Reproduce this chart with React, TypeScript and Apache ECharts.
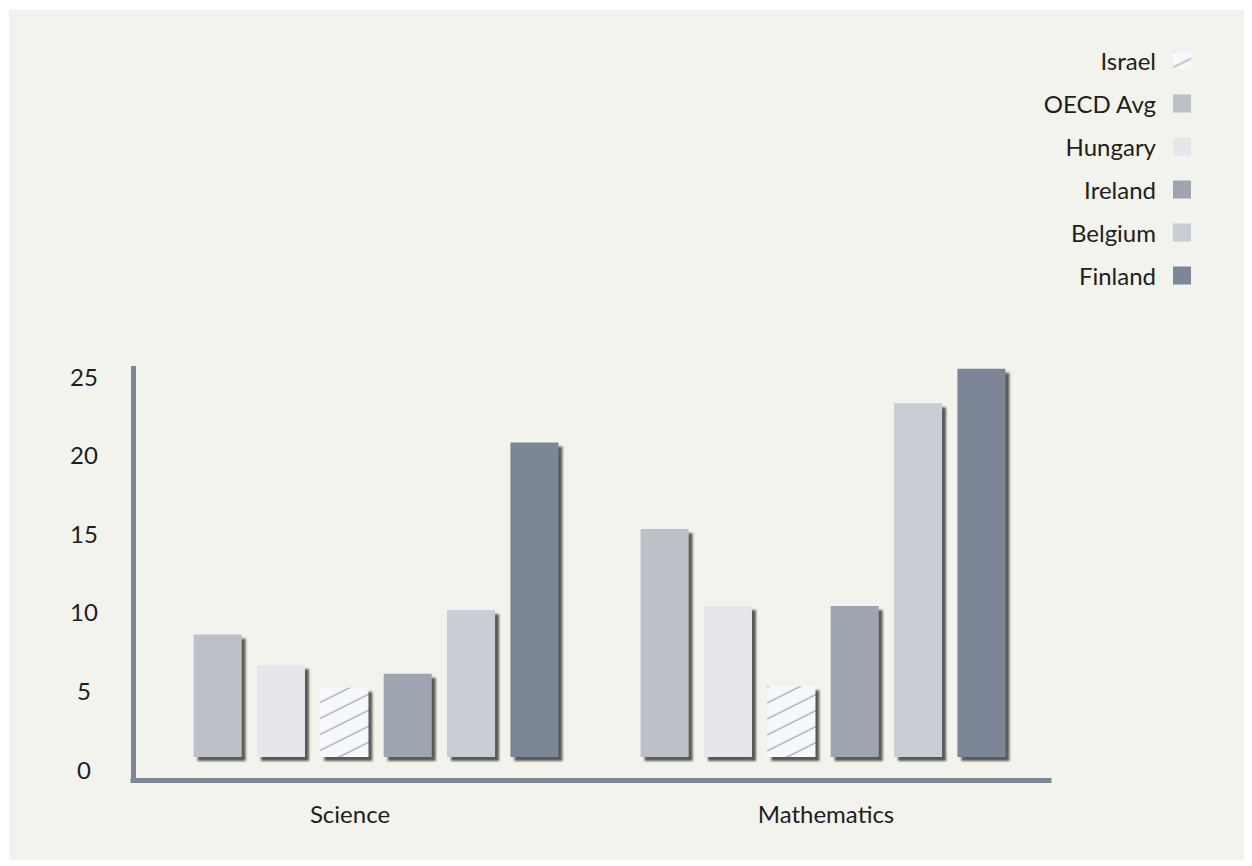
import React, { useEffect, useRef } from "react";
import * as echarts from "echarts";

const categories = ["Science", "Mathematics"];
const yTicks = [0, 5, 10, 15, 20, 25];
const oecdAvg = [7.8, 14.5];
const hungary = [5.85, 9.6];
const israel = [4.4, 4.5];
const ireland = [5.3, 9.6];
const belgium = [9.35, 22.5];
const finland = [20.0, 24.7];
const legendOrder = ["Israel", "OECD Avg", "Hungary", "Ireland", "Belgium", "Finland"];

const FONT = "Lato";
const TEXT = "#1e1e1e";
const AXIS = "#7b8696";
const FS = 24;

function hatchPattern(): any {
  const W = 32;
  const h = 16;
  const c = document.createElement("canvas");
  c.width = W;
  c.height = h;
  const ctx = c.getContext("2d");
  if (!ctx) return "#f7f8fa";
  ctx.fillStyle = "#f7f8fa";
  ctx.fillRect(0, 0, W, h);
  ctx.strokeStyle = "#b7bec8";
  ctx.lineWidth = 1.8;
  for (let k = -1; k <= 1; k++) {
    ctx.beginPath();
    ctx.moveTo(0, h + k * h);
    ctx.lineTo(W, k * h);
    ctx.stroke();
  }
  return { image: c, repeat: "repeat" };
}

export default function App() {
  const ref = useRef<HTMLDivElement>(null);
  useEffect(() => {
    if (!ref.current) return;
    const chart = echarts.init(ref.current, null, { renderer: "svg" });
    const shadow = {
      shadowColor: "rgba(80,82,77,0.95)",
      shadowBlur: 2,
      shadowOffsetX: 4,
      shadowOffsetY: 4,
    };
    const mk = (name: string, data: number[], color: any) => ({
      name,
      type: "bar",
      xAxisIndex: 0,
      yAxisIndex: 0,
      data,
      barWidth: 48,
      barGap: "32%",
      itemStyle: { color, ...shadow },
      emphasis: { disabled: true },
    });
    const option: any = {
      animation: false,
      backgroundColor: "#f2f3ec",
      textStyle: { fontFamily: FONT },
      legend: {
        orient: "vertical",
        right: 53,
        top: 38.5,
        padding: 0,
        align: "right",
        icon: "rect",
        itemWidth: 18,
        itemHeight: 18,
        itemGap: 19,
        data: legendOrder,
        itemStyle: { shadowBlur: 0, shadowOffsetX: 0, shadowOffsetY: 0, shadowColor: "rgba(0,0,0,0)" },
        textStyle: { fontFamily: FONT, fontSize: FS, lineHeight: FS, color: TEXT, padding: [0, 12, 0, 0] },
      },
      grid: [
        { left: 143.5, width: 894, top: 354, height: 393 },
        { left: 124, width: 916, top: 358.5, height: 411.5 },
        { left: 103, width: 952, top: 358.5, height: 411.5 },
      ],
      xAxis: [
        { type: "category", data: categories, gridIndex: 0, show: false },
        {
          type: "category",
          data: categories,
          gridIndex: 1,
          axisLine: { show: true, lineStyle: { color: AXIS, width: 5, cap: "square" } },
          axisTick: { show: false },
          axisLabel: { show: false },
          splitLine: { show: false },
        },
        {
          type: "category",
          data: categories,
          gridIndex: 2,
          axisLine: { show: false },
          axisTick: { show: false },
          axisLabel: { show: true, margin: 21.5, fontSize: FS, color: TEXT, fontFamily: FONT },
          splitLine: { show: false },
        },
      ],
      yAxis: [
        {
          type: "value",
          gridIndex: 0,
          min: yTicks[0],
          max: yTicks[yTicks.length - 1],
          interval: yTicks[1] - yTicks[0],
          axisLine: { show: false },
          axisTick: { show: false },
          splitLine: { show: false },
          axisLabel: {
            align: "center",
            verticalAlign: "top",
            margin: 68.5,
            fontSize: FS,
            lineHeight: FS,
            color: TEXT,
            fontFamily: FONT,
          },
        },
        {
          type: "value",
          gridIndex: 1,
          min: 0,
          max: 1,
          axisLine: { show: true, lineStyle: { color: AXIS, width: 5, cap: "square" } },
          axisTick: { show: false },
          axisLabel: { show: false },
          splitLine: { show: false },
        },
        { type: "value", gridIndex: 2, show: false, splitLine: { show: false } },
      ],
      series: [
        mk("OECD Avg", oecdAvg, "#bcc1c8"),
        mk("Hungary", hungary, "#e6e7ea"),
        mk("Israel", israel, hatchPattern()),
        mk("Ireland", ireland, "#9ea4b0"),
        mk("Belgium", belgium, "#c9cdd5"),
        mk("Finland", finland, "#7b8696"),
      ],
    };
    chart.setOption(option);
    return () => chart.dispose();
  }, []);
  return (
    <div style={{ position: "relative", left: 1, top: 2 }}>
      <div ref={ref} style={{ width: 1235, height: 852 }} />
    </div>
  );
}
